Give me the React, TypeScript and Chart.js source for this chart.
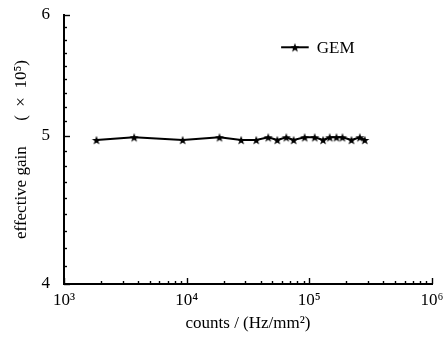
import React, { useEffect, useRef } from 'react';
import { Chart, registerables } from 'chart.js';

Chart.register(...registerables);

// ---- data ----
const counts = [1840, 3730, 9270, 18500, 27800, 36900, 46200, 54800, 64900, 74500, 91600, 110600, 129400, 146700, 166400, 186300, 220600, 258000, 283300];
const gain = [4.97, 4.99, 4.97, 4.99, 4.97, 4.97, 4.99, 4.97, 4.99, 4.97, 4.99, 4.99, 4.97, 4.99, 4.99, 4.99, 4.97, 4.99, 4.97];
const seriesLabel = 'GEM';

const xTickValues = [
  1000, 2000, 3000, 4000, 5000, 6000, 7000, 8000, 9000,
  10000, 20000, 30000, 40000, 50000, 60000, 70000, 80000, 90000,
  100000, 200000, 300000, 400000, 500000, 600000, 700000, 800000, 900000,
  1000000,
];
const xTickLabels = [
  '10³', '', '', '', '', '', '', '', '',
  '10⁴', '', '', '', '', '', '', '', '',
  '10⁵', '', '', '', '', '', '', '', '',
  '10⁶',
];
const yTickValues = [
  4, 4.1111, 4.2222, 4.3333, 4.4444, 4.5556, 4.6667, 4.7778, 4.8889,
  5, 5.1111, 5.2222, 5.3333, 5.4444, 5.5556, 5.6667, 5.7778, 5.8889,
  6,
];
const yTickLabels = [
  '4', '', '', '', '', '', '', '', '',
  '5', '', '', '', '', '', '', '', '',
  '6',
];
const xTitle = 'counts / (Hz/mm²)';
const yTitle = 'effective gain　  (  ×  10⁵)';

const FONT = "'Liberation Serif', 'DejaVu Serif', serif";

function makeStar(outer: number, inner: number): HTMLCanvasElement {
  const size = Math.ceil(outer * 2 + 2);
  const c = document.createElement('canvas');
  c.width = size;
  c.height = size;
  const ctx = c.getContext('2d')!;
  const cx = size / 2;
  const cy = size / 2 + 0.5;
  ctx.beginPath();
  for (let i = 0; i < 10; i++) {
    const r = i % 2 === 0 ? outer : inner;
    const a = -Math.PI / 2 + (i * Math.PI) / 5;
    const px = cx + r * Math.cos(a);
    const py = cy + r * Math.sin(a);
    if (i === 0) ctx.moveTo(px, py);
    else ctx.lineTo(px, py);
  }
  ctx.closePath();
  ctx.fillStyle = '#000';
  ctx.fill();
  return c;
}

const inwardTicks = {
  id: 'inwardTicks',
  afterDraw(chart: any) {
    const ctx = chart.ctx;
    const xs = chart.scales.x;
    const ys = chart.scales.y;
    const area = chart.chartArea;
    ctx.save();
    ctx.strokeStyle = '#000';
    ctx.lineWidth = 1.4;
    xs.ticks.forEach((t: any, i: number) => {
      const px = Math.round(xs.getPixelForValue(t.value)) + 0.5;
      const len = xTickLabels[i] ? 6 : 3;
      ctx.beginPath();
      ctx.moveTo(px, area.bottom);
      ctx.lineTo(px, area.bottom - len);
      ctx.stroke();
    });
    ys.ticks.forEach((t: any, i: number) => {
      const py = Math.round(ys.getPixelForValue(t.value)) + 0.5;
      const len = yTickLabels[i] ? 6 : 3;
      ctx.beginPath();
      ctx.moveTo(area.left, py);
      ctx.lineTo(area.left + len, py);
      ctx.stroke();
    });
    ctx.restore();
  },
};

const inlineLegend = {
  id: 'inlineLegend',
  afterDraw(chart: any) {
    const ctx = chart.ctx;
    const area = chart.chartArea;
    const ds = chart.data.datasets[0];
    const w = area.right - area.left;
    const h = area.bottom - area.top;
    const x1 = area.left + w * 0.59;
    const x2 = area.left + w * 0.665;
    const y = area.top + h * 0.12;
    ctx.save();
    ctx.strokeStyle = '#000';
    ctx.lineWidth = 2;
    ctx.beginPath();
    ctx.moveTo(x1, y);
    ctx.lineTo(x2, y);
    ctx.stroke();
    const img = ds.pointStyle as HTMLCanvasElement;
    ctx.drawImage(img, (x1 + x2) / 2 - img.width / 2, y - img.height / 2);
    ctx.fillStyle = '#000';
    ctx.font = `17px ${FONT}`;
    ctx.textBaseline = 'middle';
    ctx.textAlign = 'left';
    ctx.fillText(ds.label, x2 + 8, y + 1);
    ctx.restore();
  },
};

export default function App() {
  const ref = useRef<HTMLCanvasElement | null>(null);

  useEffect(() => {
    document.body.style.margin = '0';
    const canvas = ref.current;
    if (!canvas) return;
    const star = makeStar(4.8, 2);
    const chart = new Chart(canvas, {
      type: 'line',
      data: {
        datasets: [
          {
            label: seriesLabel,
            data: counts.map((c, i) => ({ x: c, y: gain[i] })),
            borderColor: '#000',
            backgroundColor: '#000',
            borderWidth: 2,
            pointStyle: star as any,
            pointRadius: 4,
            tension: 0,
          },
        ],
      },
      options: {
        animation: false,
        responsive: false,
        maintainAspectRatio: false,
        layout: { padding: { top: 15, right: 12, left: 0, bottom: 0 } },
        plugins: {
          legend: { display: false },
          tooltip: { enabled: false },
        },
        scales: {
          x: {
            type: 'logarithmic',
            min: 1000,
            max: 1000000,
            afterBuildTicks: (scale: any) => {
              scale.ticks = xTickValues.map((v) => ({ value: v }));
            },
            afterFit: (scale: any) => {
              scale.height = 63;
              scale.paddingLeft = 0;
              scale.paddingRight = 0;
            },
            ticks: {
              autoSkip: false,
              maxRotation: 0,
              padding: 6,
              color: '#000',
              font: { family: FONT, size: 17 },
              callback: (_v: any, i: number) => xTickLabels[i],
            },
            grid: { drawOnChartArea: false, drawTicks: false },
            border: { display: true, color: '#000', width: 2 },
            title: {
              display: true,
              text: xTitle,
              color: '#000',
              font: { family: FONT, size: 17 },
              padding: { top: 0, bottom: 13 },
            },
          },
          y: {
            type: 'logarithmic',
            min: 4,
            max: 6,
            afterBuildTicks: (scale: any) => {
              scale.ticks = yTickValues.map((v) => ({ value: v }));
            },
            afterFit: (scale: any) => {
              scale.width = 64;
              scale.paddingTop = 0;
              scale.paddingBottom = 0;
            },
            ticks: {
              autoSkip: false,
              padding: 14,
              color: '#000',
              font: { family: FONT, size: 17 },
              callback: (_v: any, i: number) => yTickLabels[i],
            },
            grid: { drawOnChartArea: false, drawTicks: false },
            border: { display: true, color: '#000', width: 2 },
            title: {
              display: true,
              text: yTitle,
              color: '#000',
              font: { family: FONT, size: 17 },
              padding: { top: 11, bottom: 0 },
            },
          },
        },
      },
      plugins: [inwardTicks, inlineLegend],
    });
    return () => chart.destroy();
  }, []);

  return <canvas ref={ref} width={444} height={347} style={{ display: 'block', width: 444, height: 347 }} />;
}
